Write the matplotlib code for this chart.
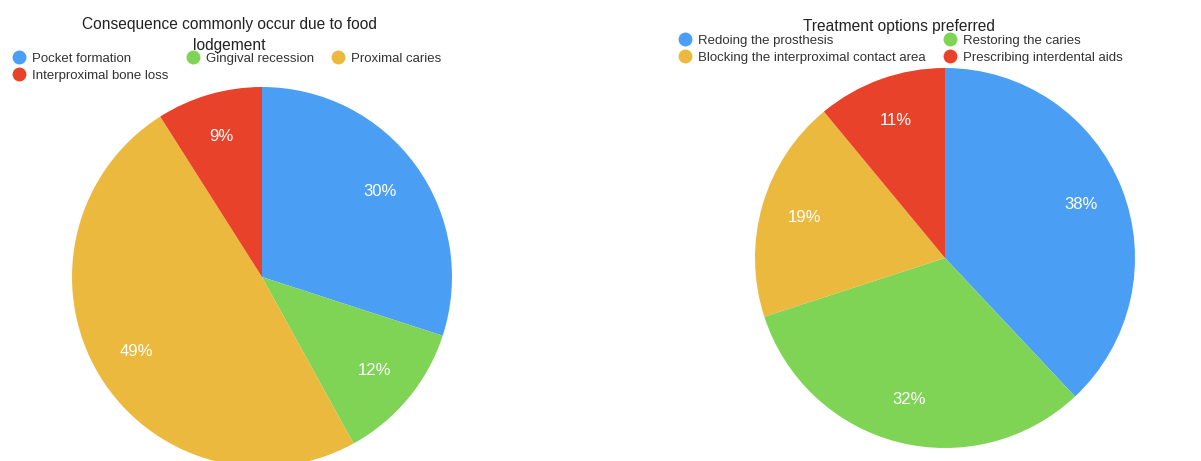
import matplotlib
matplotlib.use("Agg")
import matplotlib.pyplot as plt
from matplotlib.lines import Line2D

plt.rcParams['font.family'] = ['Liberation Sans', 'DejaVu Sans']

# data
left_title = "Consequence commonly occur due to food\nlodgement"
left_labels = ["Pocket formation", "Gingival recession", "Proximal caries", "Interproximal bone loss"]
left_vals = [30, 12, 49, 9]

right_title = "Treatment options preferred"
right_labels = ["Redoing the prosthesis", "Restoring the caries",
                "Blocking the interproximal contact area", "Prescribing interdental aids"]
right_vals = [38, 32, 19, 11]

colors = ["#4a9ff5", "#7fd455", "#ecb93f", "#e8432a"]

W, H = 1201, 461
fig = plt.figure(figsize=(W / 100, H / 100), dpi=100)

def pie_at(cx, cy, r, vals):
    ax = fig.add_axes([(cx - r) / W, (H - cy - r) / H, 2 * r / W, 2 * r / H])
    ax.pie(vals, colors=colors, startangle=90, counterclock=False, radius=1,
           autopct=lambda p: "%d%%" % round(p), pctdistance=0.77,
           textprops=dict(color="white", fontsize=12),
           wedgeprops=dict(linewidth=0))
    ax.set_xlim(-1, 1)
    ax.set_ylim(-1, 1)
    ax.set_aspect("auto")
    ax.axis("off")
    return ax

pie_at(262, 277, 190, left_vals)
pie_at(945, 258, 190, right_vals)

fig.text(229 / W, 1 - 35 / H, left_title, ha="center", va="center", fontsize=11.2,
         color="#222222", linespacing=1.45)
fig.text(899 / W, 1 - 26 / H, right_title, ha="center", va="center", fontsize=11.2,
         color="#222222")

def handles(idx):
    return [Line2D([], [], marker="o", linestyle="none", markersize=10,
                   markerfacecolor=colors[i], markeredgewidth=0) for i in idx]

# left legend, row-major look: Pocket, Gingival, Proximal / Interproximal
order = [0, 3, 1, 2]
fig.legend(handles(order), [left_labels[i] for i in order], ncol=3,
           loc="upper left", bbox_to_anchor=(6 / W, 1 - 46 / H), frameon=False,
           fontsize=9.5, handlelength=1.0, handletextpad=0.5, columnspacing=1.3,
           labelspacing=0.35, borderpad=0, labelcolor="#333333")

order = [0, 2, 1, 3]
fig.legend(handles(order), [right_labels[i] for i in order], ncol=2,
           loc="upper left", bbox_to_anchor=(672 / W, 1 - 28 / H), frameon=False,
           fontsize=9.5, handlelength=1.0, handletextpad=0.5, columnspacing=1.3,
           labelspacing=0.35, borderpad=0, labelcolor="#333333")

fig.savefig("out.png", dpi=100)
